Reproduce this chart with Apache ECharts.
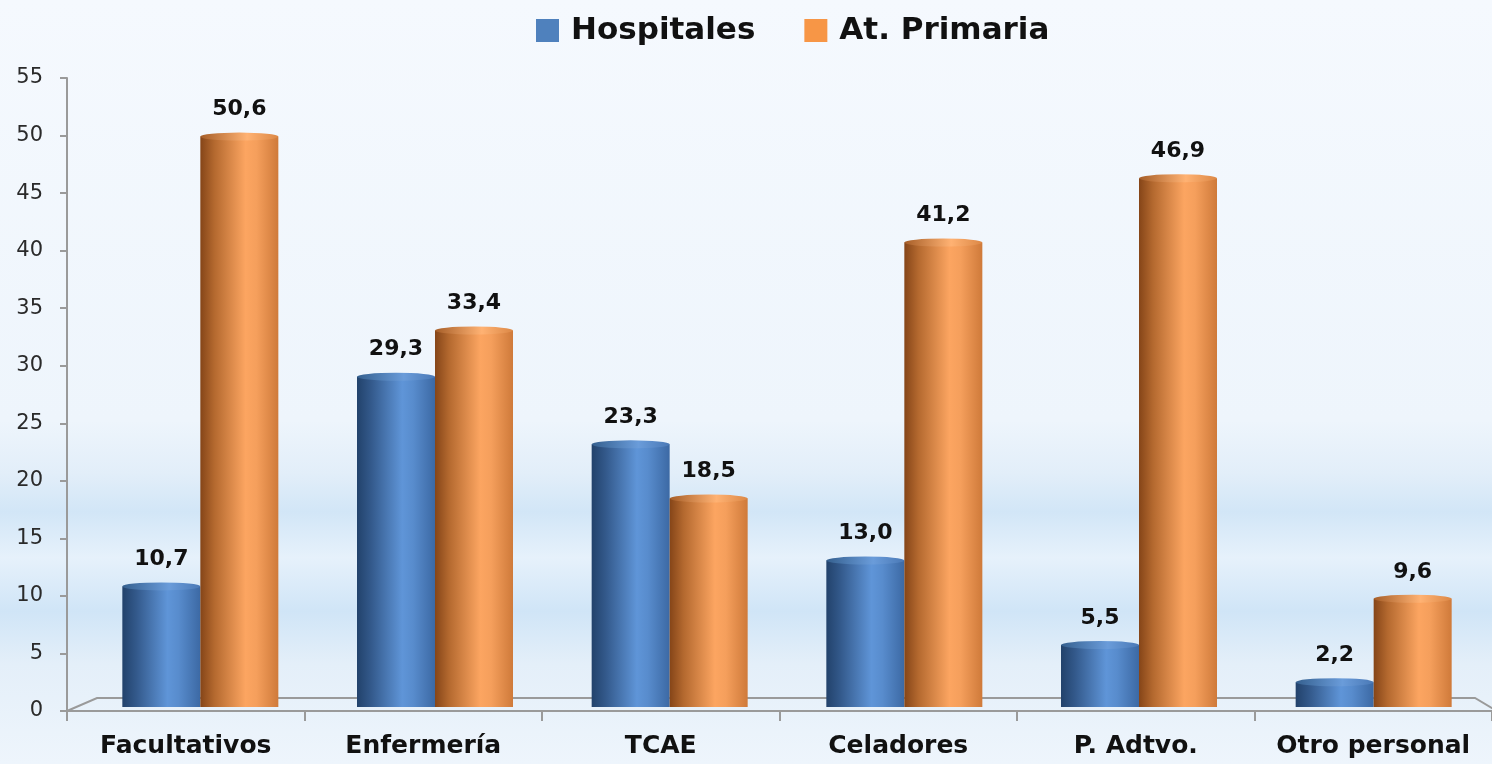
<!DOCTYPE html>
<html>
<head>
<meta charset="utf-8">
<title>Hospitales / At. Primaria</title>
<script src="https://cdn.jsdelivr.net/npm/echarts@6/dist/echarts.min.js"></script>
<style>
  html, body {
    margin: 0;
    padding: 0;
    width: 1492px;
    height: 764px;
    overflow: hidden;
    background: linear-gradient(to bottom,
      #f5f9fe 0%, #eef5fc 55%, #e2eef9 62%, #d2e6f7 67%, #e6f1fb 73%,
      #d0e5f7 80%, #e4eff9 87%, #eef5fc 100%);
  }
  #chart {
    width: 1492px;
    height: 764px;
  }
</style>
</head>
<body>
<div id="chart"></div>
<script>
// datos
const categories = ['Facultativos', 'Enfermería', 'TCAE', 'Celadores', 'P. Adtvo.', 'Otro personal']
const hospitales = [10.7, 29.3, 23.3, 13.0, 5.5, 2.2]
const atPrimaria = [50.6, 33.4, 18.5, 41.2, 46.9, 9.6]
const yMin = 0
const yMax = 55
const yStep = 5

const chart = echarts.init(document.getElementById('chart'))

// gradiente horizontal para simular cilindros
function cylinder(stops) {
  return new echarts.graphic.LinearGradient(0, 0, 1, 0,
    stops.map(c => ({ offset: c[0], color: c[1] })))
}

const blueBody = cylinder([[0, '#22426b'], [0.18, '#33598b'], [0.58, '#5f95d8'], [0.72, '#588ccd'], [1, '#3c69a4']])
const orangeBody = cylinder([[0, '#854518'], [0.18, '#b4692f'], [0.58, '#fca561'], [0.72, '#f59f5c'], [1, '#cf7a3a']])
const blueCap = cylinder([[0, '#35608f'], [0.6, '#6a9cda'], [1, '#4a79b6']])
const orangeCap = cylinder([[0, '#a65e28'], [0.6, '#ffb273'], [1, '#dc8846']])

const valueLabel = {
  show: true,
  position: 'top',
  distance: 16,
  fontFamily: 'DejaVu Sans',
  fontWeight: 'bold',
  fontSize: 22,
  color: '#111',
  formatter: p => p.value.toFixed(1).replace('.', ',')
}

// tapa superior elíptica, cada una en su propio eje oculto
function capSeries(name, data, color, axis, dx) {
  return {
    name: name,
    type: 'pictorialBar',
    xAxisIndex: axis,
    yAxisIndex: 1,
    data: data,
    symbol: 'circle',
    symbolSize: [78, 8],
    symbolPosition: 'end',
    symbolOffset: [dx, '-50%'],
    itemStyle: { color: color },
    silent: true,
    z: 4
  }
}

const hiddenCat = () => ({ type: 'category', gridIndex: 1, data: categories, show: false })

const option = {
  backgroundColor: 'transparent',
  animation: false,
  legend: {
    left: 531,
    top: 10,
    itemWidth: 23,
    itemHeight: 23,
    itemGap: 49,
    icon: 'rect',
    textStyle: {
      fontFamily: 'DejaVu Sans',
      fontWeight: 'bold',
      fontSize: 31,
      color: '#111',
      padding: [0, 0, 0, 7]
    },
    data: [
      { name: 'Hospitales', itemStyle: { color: '#4f81bd' } },
      { name: 'At. Primaria', itemStyle: { color: '#f79646' } }
    ]
  },
  grid: [
    // ejes visibles
    { left: 67, top: 78, width: 1440, height: 633 },
    // barras (plano trasero)
    { left: 83, top: 87, width: 1408, height: 620 }
  ],
  xAxis: [
    {
      type: 'category',
      gridIndex: 0,
      data: categories,
      axisLine: { lineStyle: { color: '#9a9a9a', width: 2 } },
      axisTick: { show: true, length: 10, lineStyle: { color: '#9a9a9a', width: 2 } },
      axisLabel: {
        margin: 23,
        interval: 0,
        fontFamily: 'DejaVu Sans',
        fontWeight: 'bold',
        fontSize: 25,
        color: '#111'
      }
    },
    hiddenCat(),
    hiddenCat(),
    hiddenCat()
  ],
  yAxis: [
    {
      type: 'value',
      gridIndex: 0,
      min: yMin,
      max: yMax,
      interval: yStep,
      axisLine: { show: true, lineStyle: { color: '#9a9a9a', width: 2 } },
      axisTick: { show: true, length: 7, lineStyle: { color: '#9a9a9a', width: 2 } },
      splitLine: { show: false },
      axisLabel: {
        margin: 24,
        fontFamily: 'DejaVu Sans',
        fontSize: 21,
        color: '#2a2a2a'
      }
    },
    {
      type: 'value',
      gridIndex: 1,
      min: yMin,
      max: yMax,
      show: false
    }
  ],
  series: [
    {
      name: 'Hospitales',
      type: 'bar',
      xAxisIndex: 1,
      yAxisIndex: 1,
      data: hospitales,
      barWidth: 78,
      barGap: '0%',
      itemStyle: { color: blueBody },
      label: valueLabel,
      z: 3
    },
    {
      name: 'At. Primaria',
      type: 'bar',
      xAxisIndex: 1,
      yAxisIndex: 1,
      data: atPrimaria,
      barWidth: 78,
      barGap: '0%',
      itemStyle: { color: orangeBody },
      label: valueLabel,
      z: 3
    },
    capSeries('capH', hospitales, blueCap, 2, -39),
    capSeries('capP', atPrimaria, orangeCap, 3, 39)
  ]
}

chart.setOption(option)

// suelo 3D: borde trasero del plano
const origin = chart.convertToPixel({ gridIndex: 0 }, [0, 0])
const floorY = origin[1] - 13
chart.setOption({
  graphic: [{
    type: 'polyline',
    silent: true,
    z: 0,
    shape: {
      points: [
        [67, origin[1]],
        [97, floorY],
        [1475, floorY],
        [1500, origin[1] + 2]
      ]
    },
    style: { stroke: '#9a9a9a', lineWidth: 2, fill: null }
  }]
})
</script>
</body>
</html>
